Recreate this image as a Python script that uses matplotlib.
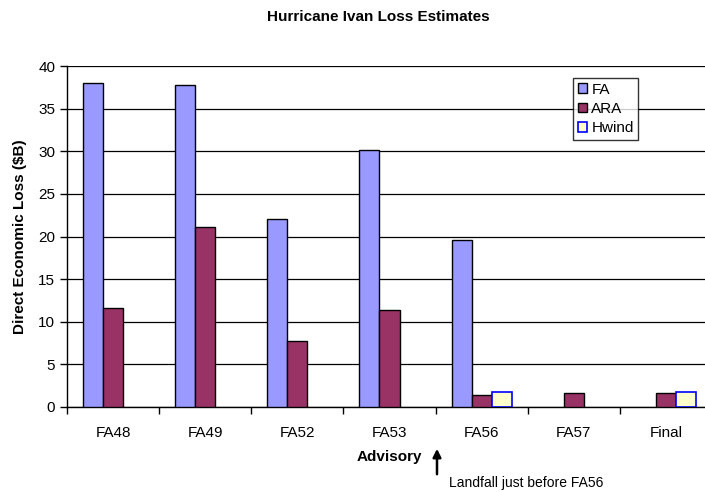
import matplotlib
matplotlib.use("Agg")
import matplotlib.pyplot as plt
import numpy as np

plt.rcParams["font.family"] = ["Liberation Sans", "DejaVu Sans"]

categories = ["FA48", "FA49", "FA52", "FA53", "FA56", "FA57", "Final"]
fa = [38.0, 37.8, 22.05, 30.2, 19.55, np.nan, np.nan]
ara = [11.57, 21.15, 7.74, 11.38, 1.37, 1.64, 1.64]
hwind = [np.nan, np.nan, np.nan, np.nan, 1.72, np.nan, 1.72]

W, H = 705, 492
fig = plt.figure(figsize=(W / 100, H / 100), dpi=100)
fig.patch.set_facecolor("white")
# plot area runs a little past the right edge of the picture, as in the original
ax = fig.add_axes([67 / W, 1 - 407 / H, 645 / W, 341 / H])

x = np.arange(len(categories))
bw = 0.218
ax.bar(x - bw, fa, bw, color="#9999FF", edgecolor="black", lw=1, label="FA", zorder=3)
ax.bar(x, ara, bw, color="#993366", edgecolor="black", lw=1, label="ARA", zorder=3)
ax.bar(x + bw, hwind, bw, color="#FFFFCC", edgecolor="#0000FF", lw=1.2, label="Hwind", zorder=3)

ax.set_xlim(-0.5, len(categories) - 0.5)
ax.set_ylim(0, 40)
ax.set_yticks(np.arange(0, 41, 5))
ax.yaxis.grid(True, color="black", lw=0.9, zorder=0)
ax.set_xticks(x)
ax.set_xticklabels(categories, fontsize=11)
ax.set_xticks(np.arange(-0.5, len(categories)), minor=True)
ax.tick_params(axis="x", which="major", length=0, pad=14)
ax.tick_params(axis="x", which="minor", length=5, width=1, direction="out")
ax.tick_params(axis="y", labelsize=11, length=5, width=1, direction="out")
for s in ("top", "right"):
    ax.spines[s].set_visible(False)
ax.spines["left"].set_linewidth(1)
ax.spines["bottom"].set_linewidth(1)

ax.set_ylabel("Direct Economic Loss ($B)", fontsize=11, fontweight="bold", labelpad=8)
ax.set_xlabel("Advisory", fontsize=11, fontweight="bold", labelpad=7)
fig.text(378 / W, 1 - 17 / H, "Hurricane Ivan Loss Estimates", ha="center", va="center",
         fontsize=11, fontweight="bold")

leg = ax.legend(loc="upper left", bbox_to_anchor=((573 - 67) / 645, (407 - 78) / 341),
                fontsize=11, frameon=True, fancybox=False, edgecolor="black",
                handlelength=0.6, handleheight=0.6, handletextpad=0.3,
                borderpad=0.3, labelspacing=0.35, borderaxespad=0)
leg.get_frame().set_linewidth(1)

ax.annotate("", xy=(437 / W, 1 - 446 / H), xytext=(437 / W, 1 - 477 / H),
            xycoords="figure fraction", textcoords="figure fraction",
            arrowprops=dict(arrowstyle="-|>", color="black", lw=1.8, mutation_scale=12))
fig.text(449 / W, 1 - 483 / H, "Landfall just before FA56", ha="left", va="center",
         fontsize=10)

fig.savefig("out.png", dpi=100)
